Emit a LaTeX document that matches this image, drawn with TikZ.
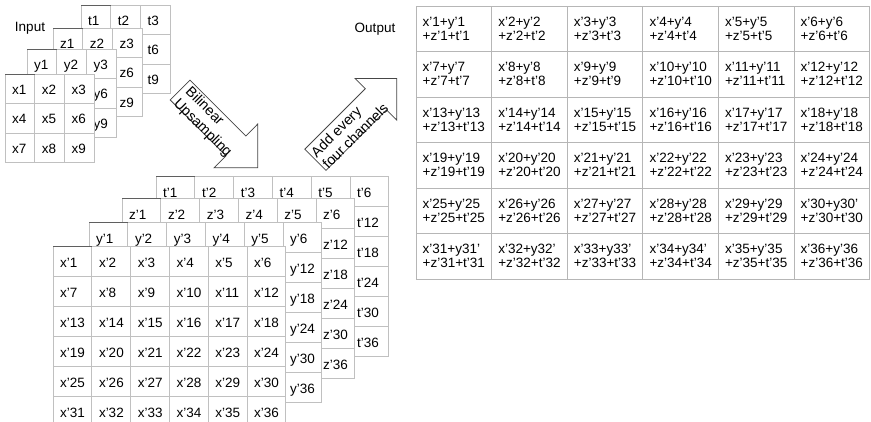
\documentclass[tikz,border=0pt]{standalone}
\usepackage{fontspec}
\setmainfont{Liberation Sans}
\definecolor{gridgray}{RGB}{192,192,192}
\definecolor{outgray}{RGB}{182,182,182}
\definecolor{edgedark}{RGB}{95,95,95}
\definecolor{arrowline}{RGB}{70,70,70}
\newcommand\txtfont{\fontsize{13.5}{14}\selectfont}
\newcommand\arrfont{\fontsize{14.3}{16.5}\selectfont}
\tikzset{
  cellline/.style={draw=gridgray, line width=0.8pt},
  darkedge/.style={draw=edgedark, line width=0.9pt},
  outline/.style={draw=outgray, line width=0.9pt},
  celltxt/.style={font=\txtfont, anchor=base west, inner sep=0pt},
  outtxt/.style={font=\txtfont, anchor=west, inner sep=0pt, align=left},
  blockarrow/.style={draw=arrowline, fill=white, line width=0.8pt, line join=miter},
  arrtxt/.style={font=\arrfont, anchor=west, inner sep=0pt, align=left},
  labeltxt/.style={font=\txtfont, inner sep=0pt},
}
% #1 x0, #2 y0, #3 w, #4 h, #5 n, #6 label, #7 name, #8 baseline offset, #9 1=all texts, 0=visible edge only
\newcommand\drawlayer[9]{%
  \fill[white] (#1,#2) rectangle (#1+#5*#3, #2+#5*#4);
  \foreach \i in {0,...,#5}{%
    \draw[cellline] (#1+\i*#3,#2) -- (#1+\i*#3,#2+#5*#4);
    \draw[cellline] (#1,#2+\i*#4) -- (#1+#5*#3,#2+\i*#4);
  }
  \draw[darkedge] (#1,#2) -- (#1+#3,#2);
  \foreach \r in {1,...,#5}{\foreach \c in {1,...,#5}{%
    \pgfmathtruncatemacro\k{(\r-1)*#5+\c}%
    \pgfmathtruncatemacro\show{(#9==1)||(\r==1)||(\c==#5)}%
    \ifnum\show=1
      \node[celltxt] (#7-\k) at (#1+\c*#3-#3+7, #2+\r*#4-0.5*#4+#8) {#6\k};
    \fi
  }}%
}
\begin{document}
\begin{tikzpicture}[x=1pt,y=-1pt]
\useasboundingbox (0,0) rectangle (871,421);
\clip (0,0) rectangle (871,421);

% ---- input stack ----
\drawlayer{81}{5}{29.7}{29.5}{3}{t}{tin}{5.5}{0}
\drawlayer{53}{28}{29.7}{29.5}{3}{z}{zin}{5.5}{0}
\drawlayer{27}{49}{29.7}{29.5}{3}{y}{yin}{5.5}{0}
\drawlayer{5}{74}{29.7}{29.5}{3}{x}{xin}{5.5}{1}
\node[labeltxt] (inlabel) at (30,28) {Input};

% ---- upsampled stack ----
\drawlayer{156}{176}{38.8}{30}{6}{t'}{tup}{6}{0}
\drawlayer{122}{198}{38.8}{30}{6}{z'}{zup}{6}{0}
\drawlayer{89}{222}{38.8}{30}{6}{y'}{yup}{6}{0}
\drawlayer{53}{246}{38.8}{30}{6}{x'}{xup}{6}{1}

% ---- output grid ----
\node[labeltxt] (outlabel) at (375,29) {Output};
\foreach \i in {0,...,6}{%
  \draw[outline] (416+\i*75.6,6) -- (416+\i*75.6,279);
  \draw[outline] (416,6+\i*45.5) -- (869.6,6+\i*45.5);
}
\foreach \r in {0,...,5}{\foreach \c in {1,...,6}{%
  \pgfmathtruncatemacro\k{\r*6+\c}%
  \def\firstline{x'\k+y'\k}%
  \ifnum\k>29 \ifnum\k<35 \def\firstline{x'\k+y\k'}\fi\fi
  \node[outtxt] (out-\k) at (416+\c*75.6-75.6+6.5, 6+\r*45.5+22.75) {\firstline\\+z'\k+t'\k};
}}

% ---- arrow: bilinear upsampling ----
\draw[blockarrow] (190.0,80.1) -- (245.9,136.0) -- (257.7,124.1) -- (257.7,167.7)
  -- (214.2,167.7) -- (226.1,155.8) -- (170.2,99.9) -- cycle;
\node[arrtxt, rotate=-45] (uptxt) at (181.5,95.5) {Bilinear\\Upsampling};

% ---- arrow: add every four channels ----
\draw[blockarrow] (326.0,170.4) -- (386.5,109.9) -- (396.8,120.1) -- (396.8,78.4)
  -- (355.0,78.4) -- (365.3,88.7) -- (304.8,149.2) -- cycle;
\node[arrtxt, rotate=45] (addtxt) at (318.9,160.5) {Add every\\four channels};
\end{tikzpicture}
\end{document}
